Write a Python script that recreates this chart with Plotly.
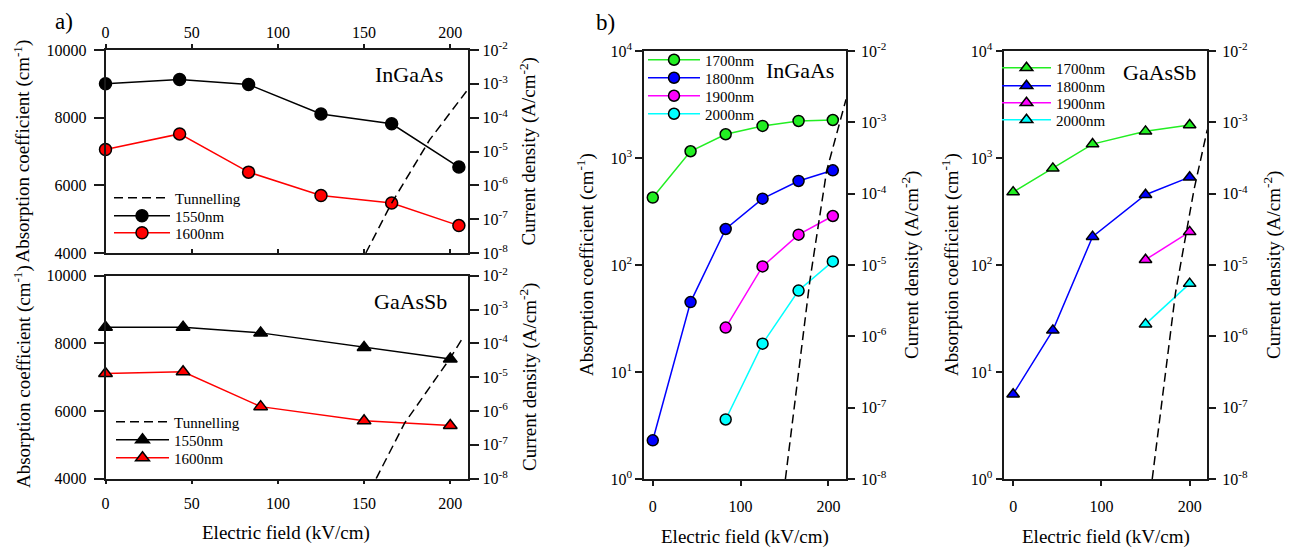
import plotly.graph_objects as go

W, H = 1291, 548
FONT = "Liberation Serif, Times New Roman, serif"

# ---------------- data ----------------
# Panel a) InGaAs
field_a_ingaas = [0, 43, 83, 125, 166, 205]
alpha_a_ingaas_1550 = [9000, 9130, 8980, 8110, 7820, 6540]
alpha_a_ingaas_1600 = [7060, 7520, 6390, 5700, 5480, 4810]
tun_field_a_ingaas = [151, 166, 188, 210]
tun_j_a_ingaas = [1e-8, 3.0e-7, 2.2e-5, 6.6e-4]

# Panel a) GaAsSb
field_a_gaassb = [0, 45, 90, 150, 200]
alpha_a_gaassb_1550 = [8480, 8480, 8310, 7880, 7540]
alpha_a_gaassb_1600 = [7110, 7160, 6130, 5710, 5570]
tun_field_a_gaassb = [157, 173.5, 199.7, 207.4]
tun_j_a_gaassb = [1e-8, 4.4e-7, 3.5e-5, 1.5e-4]

# Panel b) InGaAs
field_b_ingaas = [0, 43, 83, 125, 166, 205]
field_b_ingaas_long = [83, 125, 166, 205]
alpha_b_ingaas_1700 = [427, 1156, 1667, 1995, 2218, 2265]
alpha_b_ingaas_1800 = [2.3, 45, 217, 417, 610, 767]
alpha_b_ingaas_1900 = [26, 97, 192, 287]
alpha_b_ingaas_2000 = [3.6, 18.4, 57.7, 108]
tun_field_b_ingaas = [151, 179, 198, 220]
tun_j_b_ingaas = [1e-8, 6.2e-6, 2.1e-4, 2.1e-3]

# Panel b) GaAsSb
field_b_gaassb = [0, 45, 90, 150, 200]
field_b_gaassb_long = [150, 200]
alpha_b_gaassb_1700 = [480, 800, 1349, 1774, 2033]
alpha_b_gaassb_1800 = [6.2, 24.5, 184, 454, 662]
alpha_b_gaassb_1900 = [112, 204]
alpha_b_gaassb_2000 = [28, 67]
tun_field_b_gaassb = [157.6, 184, 205, 220]
tun_j_b_gaassb = [1e-8, 4.1e-6, 1.15e-4, 7.9e-4]

alpha_lin_ticks = [4000, 6000, 8000, 10000]
alpha_lin_ticktext = ["4000", "6000", "8000", "10000"]
field_a_ticks = [0, 50, 100, 150, 200]
field_b_ticks = [0, 100, 200]
j_ticks = [1e-8, 1e-7, 1e-6, 1e-5, 1e-4, 1e-3, 1e-2]
j_ticktext = ["10<sup>-8</sup>", "10<sup>-7</sup>", "10<sup>-6</sup>", "10<sup>-5</sup>",
              "10<sup>-4</sup>", "10<sup>-3</sup>", "10<sup>-2</sup>"]
alpha_log_ticks = [1, 10, 100, 1000, 10000]
alpha_log_ticktext = ["10<sup>0</sup>", "10<sup>1</sup>", "10<sup>2</sup>", "10<sup>3</sup>", "10<sup>4</sup>"]

# ---------------- helpers ----------------
def fx(px):
    return px / W

def fy(py):
    return 1 - py / H

AX = "#1a1a1a"
GREEN, BLUE, MAGENTA, CYAN, RED = "#22ee22", "#0000ff", "#ff00ff", "#00ffff", "#ff0000"

fig = go.Figure()

def series(x, y, xa, ya, color, symbol, name, legend, size):
    fig.add_trace(go.Scatter(
        x=x, y=y, xaxis=xa, yaxis=ya, mode="lines+markers", name=name,
        line=dict(color=color, width=1.5),
        marker=dict(symbol=symbol, size=size, color=color, line=dict(color="black", width=1.5)),
        legend=legend, showlegend=True, cliponaxis=False))

def tunnel(x, y, xa, ya, legend=None):
    fig.add_trace(go.Scatter(
        x=x, y=y, xaxis=xa, yaxis=ya, mode="lines", name="Tunnelling",
        line=dict(color="black", width=1.5, dash="9px,5px"),
        legend=legend or "legend", showlegend=legend is not None))

# Panel a top (InGaAs)
tunnel(tun_field_a_ingaas, tun_j_a_ingaas, "x5", "y2", "legend")
series(field_a_ingaas, alpha_a_ingaas_1550, "x", "y", "black", "circle", "1550nm", "legend2", 12)
series(field_a_ingaas, alpha_a_ingaas_1600, "x", "y", RED, "circle", "1600nm", "legend3", 12)

# Panel a bottom (GaAsSb)
tunnel(tun_field_a_gaassb, tun_j_a_gaassb, "x2", "y4", "legend4")
series(field_a_gaassb, alpha_a_gaassb_1550, "x2", "y3", "black", "triangle-up", "1550nm", "legend5", 12)
series(field_a_gaassb, alpha_a_gaassb_1600, "x2", "y3", RED, "triangle-up", "1600nm", "legend6", 12)

# Panel b InGaAs
series(field_b_ingaas, alpha_b_ingaas_1700, "x3", "y5", GREEN, "circle", "1700nm", "legend7", 11)
series(field_b_ingaas, alpha_b_ingaas_1800, "x3", "y5", BLUE, "circle", "1800nm", "legend8", 11)
series(field_b_ingaas_long, alpha_b_ingaas_1900, "x3", "y5", MAGENTA, "circle", "1900nm", "legend9", 11)
series(field_b_ingaas_long, alpha_b_ingaas_2000, "x3", "y5", CYAN, "circle", "2000nm", "legend10", 11)
tunnel(tun_field_b_ingaas, tun_j_b_ingaas, "x3", "y6")

# Panel b GaAsSb
series(field_b_gaassb, alpha_b_gaassb_1700, "x4", "y7", GREEN, "triangle-up", "1700nm", "legend11", 11)
series(field_b_gaassb, alpha_b_gaassb_1800, "x4", "y7", BLUE, "triangle-up", "1800nm", "legend12", 11)
series(field_b_gaassb_long, alpha_b_gaassb_1900, "x4", "y7", MAGENTA, "triangle-up", "1900nm", "legend13", 11)
series(field_b_gaassb_long, alpha_b_gaassb_2000, "x4", "y7", CYAN, "triangle-up", "2000nm", "legend14", 11)
tunnel(tun_field_b_gaassb, tun_j_b_gaassb, "x4", "y8")

tickfont = dict(family=FONT, size=16, color="black")
base = dict(showline=True, linecolor=AX, linewidth=1.5, showgrid=False, zeroline=False,
            tickfont=tickfont, tickcolor=AX, tickwidth=1.5, automargin=False)

# domains (pixels)
a_x = [fx(105.5), fx(467.5)]
a_top_y = [fy(253), fy(50)]
a_bot_y = [fy(478.7), fy(275.7)]
b1_x = [fx(644), fx(846)]
b2_x = [fx(1004.3), fx(1207.3)]
b_y = [fy(479), fy(51)]

fig.update_layout(
    xaxis=dict(base, domain=a_x, range=[0, 210], side="top", anchor="y", ticks="outside", ticklen=4,
               tickvals=field_a_ticks),
    xaxis5=dict(base, overlaying="x", matches="x", side="bottom", anchor="y", ticks="inside", ticklen=4,
                showticklabels=False, tickvals=field_a_ticks),
    yaxis=dict(base, domain=a_top_y, range=[4000, 10000], anchor="x", ticks="outside", ticklen=10,
               tickvals=alpha_lin_ticks, ticktext=alpha_lin_ticktext, ticklabelstandoff=4),
    yaxis2=dict(base, overlaying="y", side="right", anchor="x", type="log", range=[-8, -2],
                ticks="outside", ticklen=10, tickvals=j_ticks, ticktext=j_ticktext),

    xaxis2=dict(base, domain=a_x, range=[0, 210], anchor="y3", ticks="outside", ticklen=4, mirror=True,
                tickvals=field_a_ticks, ticklabelstandoff=5),
    yaxis3=dict(base, domain=a_bot_y, range=[4000, 10000], anchor="x2", ticks="outside", ticklen=10,
                tickvals=alpha_lin_ticks, ticktext=alpha_lin_ticktext, ticklabelstandoff=4),
    yaxis4=dict(base, overlaying="y3", side="right", anchor="x2", type="log", range=[-8, -2],
                ticks="outside", ticklen=10, tickvals=j_ticks, ticktext=j_ticktext),

    xaxis3=dict(base, domain=b1_x, range=[-10, 220], anchor="y5", ticks="outside", ticklen=5, mirror=True,
                tickvals=field_b_ticks, ticklabelstandoff=7),
    yaxis5=dict(base, domain=b_y, type="log", range=[0, 4], anchor="x3", ticks="outside", ticklen=7,
                tickvals=alpha_log_ticks, ticktext=alpha_log_ticktext),
    yaxis6=dict(base, overlaying="y5", side="right", anchor="x3", type="log", range=[-8, -2],
                ticks="outside", ticklen=7, tickvals=j_ticks, ticktext=j_ticktext, ticklabelstandoff=3),

    xaxis4=dict(base, domain=b2_x, range=[-10, 220], anchor="y7", ticks="outside", ticklen=5, mirror=True,
                tickvals=field_b_ticks, ticklabelstandoff=7),
    yaxis7=dict(base, domain=b_y, type="log", range=[0, 4], anchor="x4", ticks="outside", ticklen=7,
                tickvals=alpha_log_ticks, ticktext=alpha_log_ticktext),
    yaxis8=dict(base, overlaying="y7", side="right", anchor="x4", type="log", range=[-8, -2],
                ticks="outside", ticklen=7, tickvals=j_ticks, ticktext=j_ticktext, ticklabelstandoff=3),
)

leg_font = dict(family=FONT, size=15, color="black")
def legend(xp, yp, itemwidth):
    return dict(x=fx(xp), y=fy(yp), xanchor="left", yanchor="middle", bgcolor="rgba(0,0,0,0)",
                borderwidth=0, font=leg_font, itemwidth=itemwidth)

# one legend per entry (marker centre pixel, row centre pixel)
fig.update_layout(
    legend=legend(109, 198, 56),
    legend2=legend(109, 216, 56),
    legend3=legend(109, 233, 56),
    legend4=legend(111, 422, 53),
    legend5=legend(111, 440, 53),
    legend6=legend(111, 458, 53),
    legend7=legend(643, 60, 52),
    legend8=legend(643, 78, 52),
    legend9=legend(643, 96, 52),
    legend10=legend(643, 114, 52),
    legend11=legend(997, 68, 49),
    legend12=legend(997, 86, 49),
    legend13=legend(997, 103, 49),
    legend14=legend(997, 120, 49),
)

ann = []
def text(s, xp, yp, size, angle=0, xanchor="center"):
    ann.append(dict(text=s, x=fx(xp), y=fy(yp), xref="paper", yref="paper", showarrow=False,
                    textangle=angle, xanchor=xanchor, yanchor="middle",
                    font=dict(family=FONT, size=size, color="black")))

text("a)", 64, 21, 23)
text("b)", 605, 22, 23)
text("InGaAs", 409.5, 74, 22)
text("GaAsSb", 410.5, 301, 22)
text("InGaAs", 800, 71, 22)
text("GaAsSb", 1159.5, 72, 22)

ytitle = "Absorption coefficient (cm<sup>-1</sup>)"
jtitle = "Current density (A/cm<sup>-2</sup>)"
xtitle = "Electric field (kV/cm)"
text(ytitle, 22, 151.5, 19, -90)
text(ytitle, 22, 377, 19, -90)
text(jtitle, 528, 151.5, 19, -90)
text(jtitle, 528, 377, 19, -90)
text(ytitle, 586, 265, 19, -90)
text(jtitle, 911, 265, 19, -90)
text(ytitle, 951, 265, 19, -90)
text(jtitle, 1273, 265, 19, -90)
text(xtitle, 285.5, 533, 19)
text(xtitle, 745, 536.7, 19)
text(xtitle, 1105.5, 537, 19)

fig.update_layout(
    annotations=ann,
    width=W, height=H, margin=dict(l=0, r=0, t=0, b=0, pad=0, autoexpand=False),
    paper_bgcolor="white", plot_bgcolor="white",
    font=dict(family=FONT, color="black"),
)

fig.write_html("out.html")
